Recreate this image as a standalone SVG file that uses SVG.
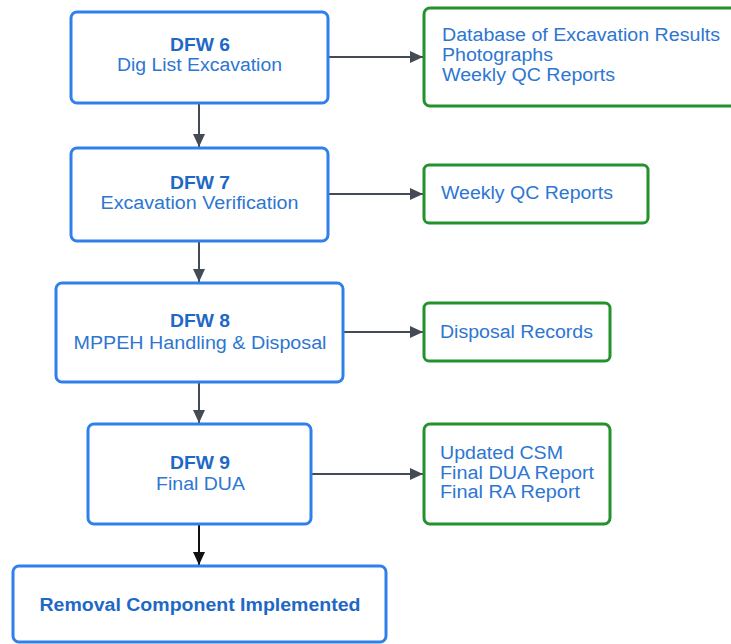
<svg xmlns="http://www.w3.org/2000/svg" width="731" height="644" viewBox="0 0 731 644">
  <defs>
    <marker id="arr" viewBox="0 0 13 12" refX="13" refY="6" markerWidth="13" markerHeight="12" markerUnits="userSpaceOnUse" orient="auto">
      <path d="M0,0 L13,6 L0,12 Z" fill="#454b54"/>
    </marker>
    <marker id="arrBlack" viewBox="0 0 13 12" refX="13" refY="6" markerWidth="13" markerHeight="12" markerUnits="userSpaceOnUse" orient="auto">
      <path d="M0,0 L13,6 L0,12 Z" fill="#111111"/>
    </marker>
  </defs>
  <style>
    .step { fill: #ffffff; stroke: #2f80ea; stroke-width: 3; }
    .out { fill: #ffffff; stroke: #23922c; stroke-width: 3; }
    text { font-family: "Liberation Sans", Arial, sans-serif; font-size: 18px; fill: #2d76d2; }
    .title { font-weight: bold; fill: #1e68c6; }
    .c { text-anchor: middle; }
    .link { stroke: #454b54; stroke-width: 2; fill: none; }
    .final { stroke: #111111; }
  </style>
  <rect x="0" y="0" width="731" height="644" fill="#ffffff"/>

  <g id="connectors">
    <line class="link" x1="328" y1="57" x2="423" y2="57" marker-end="url(#arr)"/>
    <line class="link" x1="199" y1="103" x2="199" y2="147" marker-end="url(#arr)"/>
    <line class="link" x1="328" y1="194" x2="423" y2="194" marker-end="url(#arr)"/>
    <line class="link" x1="199" y1="242" x2="199" y2="282" marker-end="url(#arr)"/>
    <line class="link" x1="343" y1="332" x2="423" y2="332" marker-end="url(#arr)"/>
    <line class="link" x1="199" y1="383" x2="199" y2="423" marker-end="url(#arr)"/>
    <line class="link" x1="311" y1="474" x2="423" y2="474" marker-end="url(#arr)"/>
    <line class="link final" x1="199" y1="525" x2="199" y2="565" marker-end="url(#arrBlack)"/>
  </g>

  <g id="dfw6">
    <rect class="step" x="71" y="12" width="257" height="91" rx="6"/>
    <text class="title c" x="200" y="51" textLength="60" lengthAdjust="spacingAndGlyphs">DFW 6</text>
    <text class="c" x="199.5" y="71" textLength="165" lengthAdjust="spacingAndGlyphs">Dig List Excavation</text>
  </g>
  <g id="out6">
    <rect class="out" x="424" y="8" width="320" height="98" rx="6"/>
    <text x="442" y="41" textLength="278" lengthAdjust="spacingAndGlyphs">Database of Excavation Results</text>
    <text x="442" y="61" textLength="111" lengthAdjust="spacingAndGlyphs">Photographs</text>
    <text x="442" y="81" textLength="173" lengthAdjust="spacingAndGlyphs">Weekly QC Reports</text>
  </g>

  <g id="dfw7">
    <rect class="step" x="71" y="148" width="257" height="93" rx="6"/>
    <text class="title c" x="200" y="189" textLength="60" lengthAdjust="spacingAndGlyphs">DFW 7</text>
    <text class="c" x="199.5" y="209" textLength="198" lengthAdjust="spacingAndGlyphs">Excavation Verification</text>
  </g>
  <g id="out7">
    <rect class="out" x="424" y="165" width="224" height="58" rx="5"/>
    <text x="441" y="199" textLength="172" lengthAdjust="spacingAndGlyphs">Weekly QC Reports</text>
  </g>

  <g id="dfw8">
    <rect class="step" x="56" y="283" width="287" height="99" rx="6"/>
    <text class="title c" x="200" y="327" textLength="60" lengthAdjust="spacingAndGlyphs">DFW 8</text>
    <text class="c" x="200" y="349" textLength="253" lengthAdjust="spacingAndGlyphs">MPPEH Handling &amp; Disposal</text>
  </g>
  <g id="out8">
    <rect class="out" x="424" y="303" width="186" height="58" rx="5"/>
    <text x="440" y="338" textLength="153" lengthAdjust="spacingAndGlyphs">Disposal Records</text>
  </g>

  <g id="dfw9">
    <rect class="step" x="88" y="424" width="223" height="100" rx="6"/>
    <text class="title c" x="200" y="469" textLength="60" lengthAdjust="spacingAndGlyphs">DFW 9</text>
    <text class="c" x="200.5" y="490" textLength="89" lengthAdjust="spacingAndGlyphs">Final DUA</text>
  </g>
  <g id="out9">
    <rect class="out" x="424" y="424" width="186" height="100" rx="6"/>
    <text x="440" y="459" textLength="123" lengthAdjust="spacingAndGlyphs">Updated CSM</text>
    <text x="440" y="479" textLength="154" lengthAdjust="spacingAndGlyphs">Final DUA Report</text>
    <text x="440" y="498" textLength="140" lengthAdjust="spacingAndGlyphs">Final RA Report</text>
  </g>

  <g id="removal">
    <rect class="step" x="13" y="566" width="373" height="76" rx="6"/>
    <text class="title c" x="200" y="611" textLength="321" lengthAdjust="spacingAndGlyphs">Removal Component Implemented</text>
  </g>
</svg>
